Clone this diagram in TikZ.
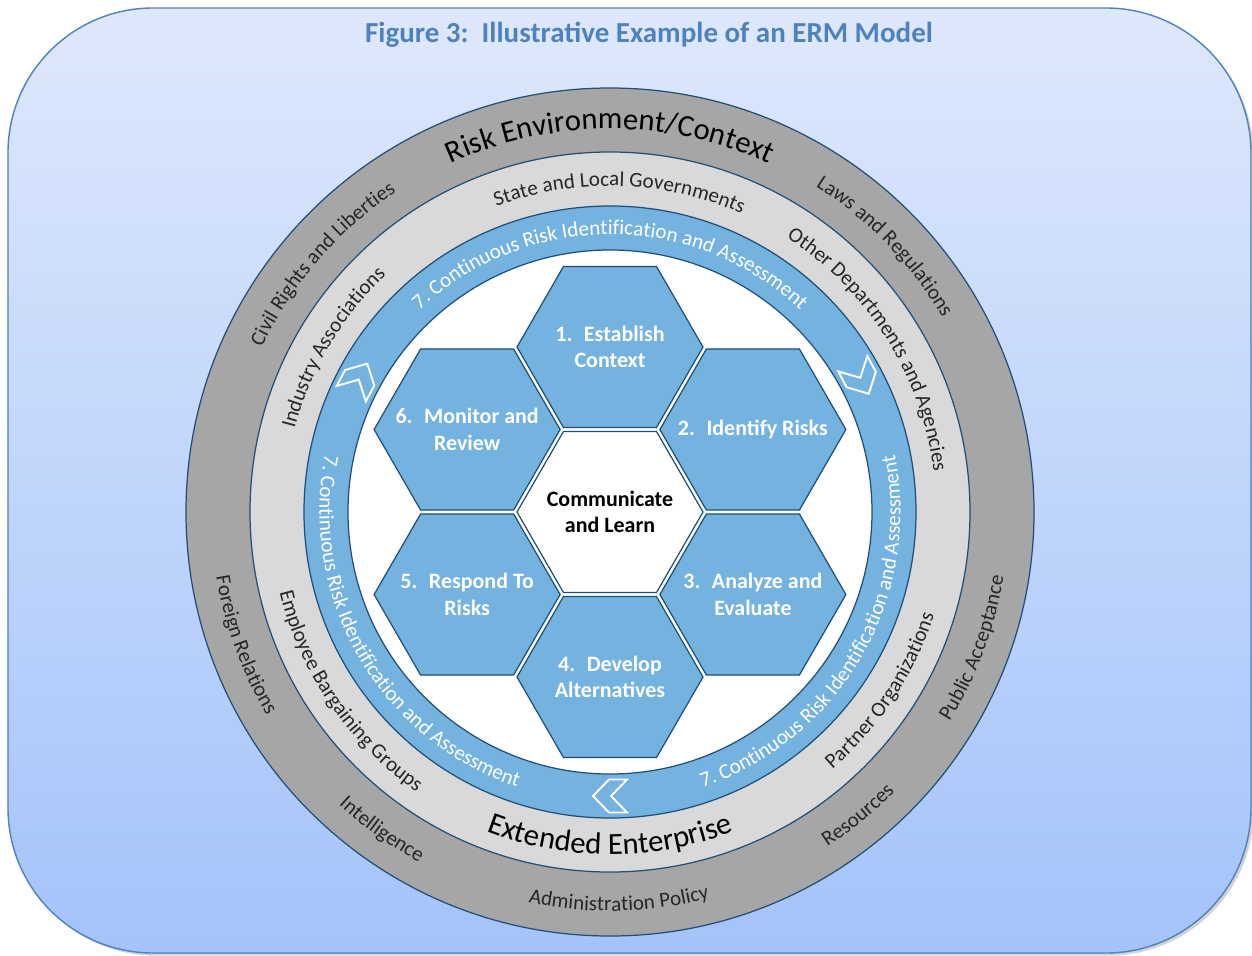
\documentclass[tikz,border=0pt]{standalone}
\usepackage[table,dvipsnames]{xcolor}
\usepackage{fontspec}
\setmainfont{Carlito}
\definecolor{ermNavy}{RGB}{31,78,121}
\definecolor{ermBlue}{RGB}{116,178,224}
\definecolor{ermTitle}{RGB}{79,129,189}
\definecolor{ermTop}{RGB}{222,232,252}
\definecolor{ermBottom}{RGB}{164,195,250}
\colorlet{colorOuter}{black!35}
\colorlet{colorInner}{black!15}
\colorlet{colorRingText}{black!85}
\usepackage{tikz}
\usetikzlibrary{shapes.geometric, decorations.text, shadows, positioning}
\newcommand{\ringfont}{\fontsize{12}{14}\selectfont\color{colorRingText}}
\newcommand{\bigringfont}{\fontsize{17.5}{20}\selectfont\color{black}}
\newcommand{\loopfont}{\fontsize{12}{14}\selectfont\color{white}}
\tikzset{
  backdrop/.style={draw=ermTitle, line width=0.8pt, top color=ermTop, bottom color=ermBottom, rounded corners=2.9cm, drop shadow={shadow xshift=1.5pt, shadow yshift=-1.5pt, opacity=0.35}},
  ring/.style={circle, draw=ermNavy, line width=0.7pt, inner sep=0pt},
  hexstep/.style={regular polygon, regular polygon sides=6, minimum size=3.72cm, inner sep=0pt, draw=ermNavy, line width=0.7pt, fill=ermBlue},
  hexlabel/.style={text=white, font=\fontsize{12.5}{15}\selectfont\bfseries, align=center, inner sep=0pt},
  arctext/.style={decorate, decoration={text along path, text align=center, text={#1}}},
  chev/.pic={\draw[draw=white, line width=1.1pt, fill=ermBlue, line join=miter] (-0.34,0.33) -- (0.02,0.33) -- (0.34,0) -- (0.02,-0.33) -- (-0.34,-0.33) -- (-0.02,0) -- cycle;}
}

\begin{document}
\begin{tikzpicture}
\useasboundingbox (-12.2,10.24) rectangle (12.84,-8.86);
\draw[backdrop] (-12.04,10.08) rectangle (12.82,-8.82);
\node[font=\fontsize{16.5}{19}\selectfont\bfseries, text=ermTitle] (title) at (0.78,9.54) {Figure 3:\ \ Illustrative Example of an ERM Model};

\node[ring, minimum size=16.96cm, fill=colorOuter] (envring) at (0,0) {};
\node[ring, minimum size=14.4cm, fill=colorInner] (entring) at (0,0) {};
\node[ring, minimum size=12.24cm, fill=ermBlue] (loopring) at (0,0) {};
\node[ring, minimum size=10.48cm, fill=white] (core) at (0,0) {};

\node[hexstep, fill=white] (comm) at (core.center) {};
\node[hexstep] (s1) at ([shift={(90:3.3)}]comm.center) {};
\node[hexstep] (s2) at ([shift={(30:3.3)}]comm.center) {};
\node[hexstep] (s3) at ([shift={(-30:3.3)}]comm.center) {};
\node[hexstep] (s4) at ([shift={(-90:3.3)}]comm.center) {};
\node[hexstep] (s5) at ([shift={(-150:3.3)}]comm.center) {};
\node[hexstep] (s6) at ([shift={(150:3.3)}]comm.center) {};
\node[hexlabel, text=black] (commtext) at (comm) {Communicate\\and Learn};
\node[hexlabel] (s1text) at (s1) {1.~ Establish\\Context};
\node[hexlabel] (s2text) at (s2) {2.~ Identify Risks};
\node[hexlabel] (s3text) at (s3) {3.~ Analyze and\\Evaluate};
\node[hexlabel] (s4text) at (s4) {4.~ Develop\\Alternatives};
\node[hexlabel] (s5text) at (s5) {5.~ Respond To\\Risks};
\node[hexlabel] (s6text) at (s6) {6.~ Monitor and\\Review};

\path[arctext={|\bigringfont|Risk Environment/Context}] (135:7.66) arc[start angle=135, end angle=45, radius=7.66];
\path[arctext={|\ringfont|Laws and Regulations}] (89:7.70) arc[start angle=89, end angle=-1, radius=7.70];
\path[arctext={|\ringfont|Public Acceptance}] (-65.5:7.98) arc[start angle=-65.5, end angle=24.5, radius=7.98];
\path[arctext={|\ringfont|Resources}] (-95.7:7.98) arc[start angle=-95.7, end angle=-5.7, radius=7.98];
\path[arctext={|\ringfont|Administration Policy}] (-133.7:7.98) arc[start angle=-133.7, end angle=-43.7, radius=7.98];
\path[arctext={|\ringfont|Intelligence}] (189.3:7.98) arc[start angle=189.3, end angle=279.3, radius=7.98];
\path[arctext={|\ringfont|Foreign Relations}] (155:7.98) arc[start angle=155, end angle=245, radius=7.98];
\path[arctext={|\ringfont|Civil Rights and Liberties}] (184.2:7.70) arc[start angle=184.2, end angle=94.2, radius=7.70];

\path[arctext={|\ringfont|State and Local Governments}] (133.3:6.52) arc[start angle=133.3, end angle=43.3, radius=6.52];
\path[arctext={|\ringfont|Other Departments and Agencies}] (77.2:6.52) arc[start angle=77.2, end angle=-12.8, radius=6.52];
\path[arctext={|\ringfont|Partner Organizations}] (-78.4:6.80) arc[start angle=-78.4, end angle=11.6, radius=6.80];
\path[arctext={|\bigringfont|Extended Enterprise}] (-135:6.85) arc[start angle=-135, end angle=-45, radius=6.85];
\path[arctext={|\ringfont|Employee Bargaining Groups}] (169.5:6.80) arc[start angle=169.5, end angle=259.5, radius=6.80];
\path[arctext={|\ringfont|Industry Associations}] (194.3:6.52) arc[start angle=194.3, end angle=104.3, radius=6.52];

\path[arctext={|\loopfont|7. Continuous Risk Identification and Assessment}] (148:5.55) arc[start angle=148, end angle=32, radius=5.55];
\path[arctext={|\loopfont|7. Continuous Risk Identification and Assessment}] (152:5.81) arc[start angle=152, end angle=268, radius=5.81];
\path[arctext={|\loopfont|7. Continuous Risk Identification and Assessment}] (-88:5.81) arc[start angle=-88, end angle=28, radius=5.81];

\pic[rotate=62] (chevnw) at (152:5.68) {chev};
\pic[rotate=-62] (chevne) at (28:5.68) {chev};
\pic[rotate=180] (chevs) at (270:5.68) {chev};
\end{tikzpicture}
\end{document}
